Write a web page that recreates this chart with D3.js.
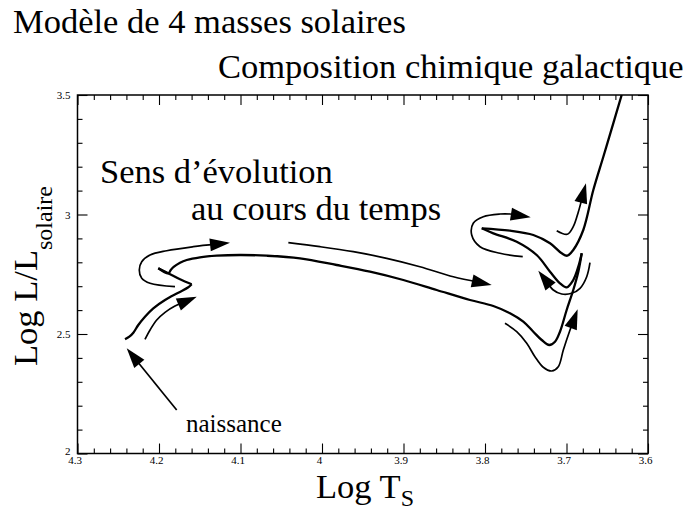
<!DOCTYPE html>
<html><head><meta charset="utf-8">
<script src="https://cdn.jsdelivr.net/npm/d3@7"></script>
<style>
body{margin:0;background:#fff}
svg{display:block}
text{font-family:"Liberation Serif","Times New Roman",serif;fill:#000}
</style>
</head><body>
<svg id="c" width="685" height="512"></svg>
<script>
// ---- data ----
const xDomain = [4.3, 3.6];
const yDomain = [2, 3.5];
const xTicks = [4.3, 4.2, 4.1, 4.0, 3.9, 3.8, 3.7, 3.6];
const xTickLabels = ["4.3", "4.2", "4.1", "4", "3.9", "3.8", "3.7", "3.6"];
const yTicks = [2, 2.5, 3, 3.5];
const yTickLabels = ["2", "2.5", "3", "3.5"];
const xMinorStep = 0.02;
const yMinorStep = 0.1;

// evolutionary track (log Teff, log L/Lsun), split at sharp turns
const msLogT = [4.2417, 4.2364, 4.2315, 4.2254, 4.2172, 4.2070, 4.1926, 4.1763, 4.1640, 4.1599];
const msLogL = [2.4778, 2.4887, 2.5054, 2.5377, 2.5724, 2.6075, 2.6423, 2.6728, 2.6954, 2.7080];
const hookLogT = [4.1599, 4.1742, 4.1886, 4.2009];
const hookLogL = [2.7080, 2.7289, 2.7540, 2.7749];
const gapLogT = [4.2009, 4.1886, 4.1856, 4.1816, 4.1742, 4.1660, 4.1497, 4.1292, 4.1006, 4.0679, 4.0270, 3.9820, 3.9411, 3.9002, 3.8593, 3.8184, 3.7898, 3.7693, 3.7530, 3.7407, 3.7304, 3.7211, 3.7141, 3.7080, 3.6998, 3.6917, 3.6855, 3.6813];
const gapLogL = [2.7749, 2.7540, 2.7678, 2.7816, 2.7983, 2.8096, 2.8209, 2.8276, 2.8305, 2.8276, 2.8167, 2.7887, 2.7607, 2.7259, 2.6841, 2.6423, 2.6172, 2.5866, 2.5515, 2.5096, 2.4749, 2.4540, 2.4678, 2.5096, 2.6004, 2.6841, 2.7607, 2.8377];
const loopLogT = [3.6813, 3.6855, 3.6917, 3.6998, 3.7080, 3.7202, 3.7366, 3.7611, 3.7898, 3.8040];
const loopLogL = [2.8377, 2.7816, 2.7259, 2.6954, 2.7121, 2.7607, 2.8305, 2.8862, 2.9213, 2.9423];
const agbLogT = [3.8040, 3.7693, 3.7407, 3.7202, 3.7059, 3.6990, 3.6917, 3.6794, 3.6671, 3.6548, 3.6426, 3.6323];
const agbLogL = [2.9423, 2.9322, 2.9142, 2.8795, 2.8377, 2.8276, 2.8515, 2.9351, 3.1025, 3.2418, 3.3816, 3.5000];

// direction arrows (last point = arrow tip)
const arrowBirthT = [4.1783, 4.2396];
const arrowBirthL = [2.1820, 2.4402];
const arrowMsT = [4.2172, 4.2110, 4.2028, 4.1926, 4.1804, 4.1537];
const arrowMsL = [2.4778, 2.5167, 2.5586, 2.5908, 2.6172, 2.6561];
const arrowHookT = [4.1804, 4.2110, 4.2212, 4.2242, 4.2212, 4.2110, 4.1906, 4.1579, 4.1129];
const arrowHookL = [2.6979, 2.7121, 2.7331, 2.7678, 2.8025, 2.8305, 2.8485, 2.8653, 2.8820];
const arrowGapT = [4.0413, 4.0025, 3.9616, 3.9206, 3.8798, 3.8389, 3.7918];
const arrowGapL = [2.8820, 2.8653, 2.8444, 2.8167, 2.7816, 2.7397, 2.7050];
const arrowRgbT = [3.7755, 3.7611, 3.7488, 3.7387, 3.7285, 3.7182, 3.7101, 3.7039, 3.6957, 3.6863];
const arrowRgbL = [2.5448, 2.5096, 2.4611, 2.4050, 2.3607, 2.3452, 2.3632, 2.4331, 2.5167, 2.6033];
const arrowBackT = [3.6712, 3.6752, 3.6834, 3.6936, 3.7059, 3.7162, 3.7346];
const arrowBackL = [2.7983, 2.7397, 2.6912, 2.6703, 2.6674, 2.6841, 2.7649];
const arrowLoopT = [3.7537, 3.7816, 3.8061, 3.8163, 3.8144, 3.8021, 3.7816, 3.7693, 3.7439];
const arrowLoopL = [2.8234, 2.8377, 2.8653, 2.9142, 2.9632, 2.9908, 3.0021, 3.0021, 2.9883];
const arrowAgbT = [3.7120, 3.6990, 3.6917, 3.6855, 3.6761];
const arrowAgbL = [2.9322, 2.9172, 2.9490, 3.0105, 3.1305];

// ---- drawing ----
const FONT = '"Liberation Serif","Times New Roman",serif';
const svg = d3.select("#c");
svg.append("rect").attr("width", 685).attr("height", 512).attr("fill", "#fff");
const L = 77.5, R = 648, T = 95, B = 453.5;
const x = d3.scaleLinear().domain(xDomain).range([L, R]);
const y = d3.scaleLinear().domain(yDomain).range([B, T]);

const eps = 1e-6;
const xMinor = d3.range(0, Math.round((xDomain[0] - xDomain[1]) / xMinorStep) + 1)
  .map(i => +(xDomain[0] - i * xMinorStep).toFixed(4))
  .filter(v => !xTicks.some(t => Math.abs(t - v) < eps));
const yMinor = d3.range(0, Math.round((yDomain[1] - yDomain[0]) / yMinorStep) + 1)
  .map(i => +(yDomain[0] + i * yMinorStep).toFixed(4))
  .filter(v => !yTicks.some(t => Math.abs(t - v) < eps));

function styleAxis(g) {
  g.attr("font-family", FONT);
  g.select(".domain").remove();
  g.selectAll(".tick line").attr("stroke", "#000").attr("stroke-width", 1.1);
  g.selectAll(".tick text").attr("font-family", FONT).style("font-family", FONT)
    .style("font-size", "11px").attr("fill", "#000");
}
// bottom
svg.append("g").attr("transform", `translate(0,${B})`)
  .call(d3.axisBottom(x).tickValues(xTicks).tickSize(-10).tickSizeOuter(0).tickPadding(3)
    .tickFormat((d, i) => xTickLabels[i])).call(styleAxis)
  .selectAll(".tick text").attr("dx", -3);
svg.append("g").attr("transform", `translate(0,${B})`)
  .call(d3.axisBottom(x).tickValues(xMinor).tickSize(-5).tickSizeOuter(0).tickFormat("")).call(styleAxis);
// top
svg.append("g").attr("transform", `translate(0,${T})`)
  .call(d3.axisTop(x).tickValues(xTicks).tickSize(-10).tickSizeOuter(0).tickFormat("")).call(styleAxis);
svg.append("g").attr("transform", `translate(0,${T})`)
  .call(d3.axisTop(x).tickValues(xMinor).tickSize(-5).tickSizeOuter(0).tickFormat("")).call(styleAxis);
// left
svg.append("g").attr("transform", `translate(${L},0)`)
  .call(d3.axisLeft(y).tickValues(yTicks).tickSize(-10).tickSizeOuter(0).tickPadding(7)
    .tickFormat((d, i) => yTickLabels[i])).call(styleAxis)
  .selectAll(".tick text").attr("dy", (d, i) => i === 0 ? "0.05em" : "0.32em");
svg.append("g").attr("transform", `translate(${L},0)`)
  .call(d3.axisLeft(y).tickValues(yMinor).tickSize(-5).tickSizeOuter(0).tickFormat("")).call(styleAxis);
// right
svg.append("g").attr("transform", `translate(${R},0)`)
  .call(d3.axisRight(y).tickValues(yTicks).tickSize(-10).tickSizeOuter(0).tickFormat("")).call(styleAxis);
svg.append("g").attr("transform", `translate(${R},0)`)
  .call(d3.axisRight(y).tickValues(yMinor).tickSize(-5).tickSizeOuter(0).tickFormat("")).call(styleAxis);

svg.append("rect").attr("x", L).attr("y", T).attr("width", R - L).attr("height", B - T)
  .attr("fill", "none").attr("stroke", "#000").attr("stroke-width", 1.5);

svg.append("clipPath").attr("id", "clip").append("rect")
  .attr("x", L).attr("y", T).attr("width", R - L).attr("height", B - T);
const plot = svg.append("g").attr("clip-path", "url(#clip)");

const line = d3.line().x(d => x(d[0])).y(d => y(d[1])).curve(d3.curveCatmullRom.alpha(0.5));
const zipPts = (a, b) => a.map((v, i) => [v, b[i]]);

const trackSegments = [[msLogT, msLogL], [hookLogT, hookLogL], [gapLogT, gapLogL], [loopLogT, loopLogL], [agbLogT, agbLogL]];
trackSegments.forEach(([t, l]) => {
  plot.append("path").attr("d", line(zipPts(t, l))).attr("fill", "none")
    .attr("stroke", "#000").attr("stroke-width", 2.3).attr("stroke-linejoin", "round");
});

const arrows = [[arrowBirthT, arrowBirthL], [arrowMsT, arrowMsL], [arrowHookT, arrowHookL], [arrowGapT, arrowGapL],
  [arrowRgbT, arrowRgbL], [arrowBackT, arrowBackL], [arrowLoopT, arrowLoopL], [arrowAgbT, arrowAgbL]];
const headLen = 20, headHalf = 6.5;
arrows.forEach(([t, l]) => {
  const pts = zipPts(t, l);
  const n = pts.length;
  const tx = x(pts[n - 1][0]), ty = y(pts[n - 1][1]);
  const px = x(pts[n - 2][0]), py = y(pts[n - 2][1]);
  const dl = Math.hypot(tx - px, ty - py);
  const ux = (tx - px) / dl, uy = (ty - py) / dl;
  const sx = tx - ux * 14, sy = ty - uy * 14;
  const linePts = pts.slice(0, n - 1).map(p => [x(p[0]), y(p[1])]).concat([[sx, sy]]);
  const pline = d3.line().curve(d3.curveCatmullRom.alpha(0.5));
  plot.append("path").attr("d", pline(linePts)).attr("fill", "none")
    .attr("stroke", "#000").attr("stroke-width", 1.7);
  const bx = tx - ux * headLen, by = ty - uy * headLen;
  const head = [[tx, ty], [bx - uy * headHalf, by + ux * headHalf], [bx + uy * headHalf, by - ux * headHalf]];
  plot.append("path").attr("d", "M" + head.map(p => p.join(",")).join("L") + "Z").attr("fill", "#000");
});

// ---- texts ----
function label(xp, yp, size, str) {
  return svg.append("text").attr("x", xp).attr("y", yp).attr("font-family", FONT)
    .style("font-family", FONT).style("font-size", size + "px").text(str);
}
label(13, 33, 34.5, "Modèle de 4 masses solaires");
label(218, 78, 34.5, "Composition chimique galactique");
label(100, 183, 34.5, "Sens d’évolution");
label(191, 220, 34.5, "au cours du temps");
label(186, 432, 25, "naissance");

const xl = label(316, 498, 34.5, null);
xl.append("tspan").text("Log T");
xl.append("tspan").attr("dy", 8).style("font-size", "24px").text("S");

const yl = svg.append("text").attr("transform", "translate(37,276) rotate(-90)")
  .attr("text-anchor", "middle").attr("font-family", FONT).style("font-family", FONT).style("font-size", "34.5px");
yl.append("tspan").text("Log L/L");
yl.append("tspan").attr("dy", 15).style("font-size", "24px").text("solaire");
</script>
</body></html>
